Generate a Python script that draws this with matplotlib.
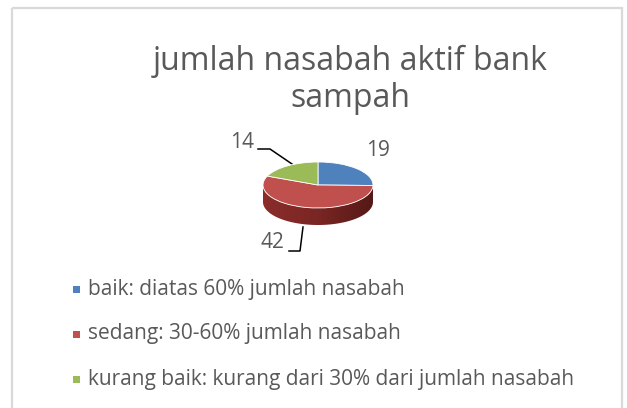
import numpy as np
import matplotlib.pyplot as plt
from matplotlib.patches import Polygon, Rectangle
from matplotlib.colors import LinearSegmentedColormap

plt.rcParams['font.family'] = ['Open Sans', 'DejaVu Sans']

# data
categories = ['baik: diatas 60% jumlah nasabah',
              'sedang: 30-60% jumlah nasabah',
              'kurang baik: kurang dari 30% dari jumlah nasabah']
values = [19, 42, 14]
colors = ['#4f81bd', '#c0504d', '#9bbb59']
title = 'jumlah nasabah aktif bank\nsampah'
text_col = '#595959'

W, H = 627, 408
fig = plt.figure(figsize=(W / 100, H / 100), dpi=100)

# fond en coordonnées pixel
bg = fig.add_axes([0, 0, 1, 1])
bg.set_xlim(0, W)
bg.set_ylim(H, 0)
bg.axis('off')
bg.add_patch(Rectangle((12, 8), 610, 420, fill=False, edgecolor='#d9d9d9', lw=1.6))

bg.text(350, 80, title, ha='center', va='center', fontsize=23, color=text_col,
        linespacing=1.18)

# ---- camembert 3D ----
cx, cy, rx, ry, depth = 318, 185, 55, 23, 17
ax = fig.add_axes([(cx - rx) / W, (H - (cy + ry + depth)) / H, 2 * rx / W, (2 * ry + depth) / H])
d = depth / ry
wedges, _ = ax.pie(values, colors=colors, startangle=90, counterclock=False,
                   wedgeprops=dict(edgecolor='white', linewidth=0.6, zorder=3))
ax.set_aspect('auto')
ax.axis('off')

side_grad = {'#4f81bd': ['#3a6494', '#23405f'],
             '#c0504d': ['#8a2d2b', '#7a2624', '#551917'],
             '#9bbb59': ['#738c41', '#4a5b29']}
grad = np.linspace(0, 1, 256).reshape(1, -1)
for w, c in zip(wedges, colors):
    t1, t2 = w.theta1, w.theta2
    for k in (-360, 0, 360):
        a = max(t1, 180 + k)
        b = min(t2, 360 + k)
        if b - a <= 0:
            continue
        t = np.radians(np.linspace(a, b, 80))
        top = np.column_stack([np.cos(t), np.sin(t)])
        bot = np.column_stack([np.cos(t[::-1]), np.sin(t[::-1]) - d])
        poly = Polygon(np.vstack([top, bot]), closed=True, facecolor='none',
                       edgecolor='none', zorder=1)
        ax.add_patch(poly)
        cmap = LinearSegmentedColormap.from_list('s', side_grad[c])
        im = ax.imshow(grad, extent=(-1, 1, -1 - d, 0.2), aspect='auto', cmap=cmap, zorder=1)
        im.set_clip_path(poly)
ax.set_xlim(-1, 1)
ax.set_ylim(-1 - d, 1)

# étiquettes + lignes de rappel
lab_kw = dict(ha='center', va='center', fontsize=15, color=text_col)
bg.text(378, 151, str(values[0]), **lab_kw)
bg.text(242, 142, str(values[2]), **lab_kw)
bg.text(272, 243, str(values[1]), **lab_kw)
bg.plot([258, 270, 292], [149, 149, 164], color='black', lw=1.1)
bg.plot([289, 300, 303], [251, 251, 227], color='black', lw=1.1)

# légende
rows_y = [289, 334, 379]
for lab, c, y in zip(categories, colors, rows_y):
    bg.add_patch(Rectangle((73, y - 3.5), 7, 7, facecolor=c, edgecolor='none'))
    bg.text(88, y, lab, ha='left', va='center', fontsize=15, color=text_col)

fig.savefig('out.png', dpi=100)
